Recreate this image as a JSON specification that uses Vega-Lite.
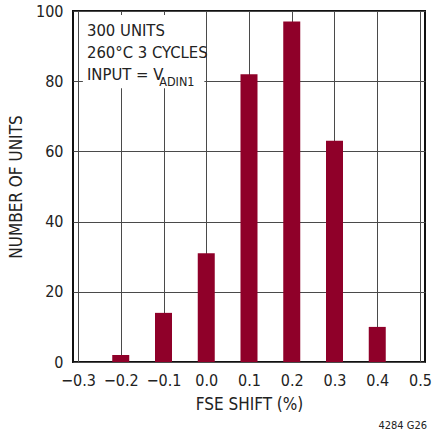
{
  "$schema": "https://vega.github.io/schema/vega-lite/v6.json",
  "width": 352,
  "height": 351,
  "autosize": "none",
  "padding": {"left": 73, "top": 11, "right": 12, "bottom": 71},
  "background": "white",
  "title": {"text": "4284 G26", "orient": "bottom", "anchor": "end", "frame": "group", "dx": 2, "fontSize": 11, "fontWeight": "normal", "font": "DejaVu Sans Condensed, DejaVu Sans", "color": "#222", "offset": 8},
  "datasets": {
    "bars": [
      {"x": -0.2, "y": 2},
      {"x": -0.1, "y": 14},
      {"x": 0.0, "y": 31},
      {"x": 0.1, "y": 82},
      {"x": 0.2, "y": 97},
      {"x": 0.3, "y": 63},
      {"x": 0.4, "y": 10}
    ],
    "box": [{"x": -0.2886, "x2": -0.0045, "y": 78, "y2": 98.86}],
    "notes": [
      {"x": -0.279, "y": 94.3, "label": "300 UNITS", "kind": "main"},
      {"x": -0.279, "y": 88.0, "label": "260°C 3 CYCLES", "kind": "main"},
      {"x": -0.279, "y": 81.8, "label": "INPUT = V", "kind": "main"},
      {"x": -0.110, "y": 79.9, "label": "ADIN1", "kind": "sub"}
    ]
  },
  "encoding": {
    "x": {
      "field": "x", "type": "quantitative",
      "scale": {"domain": [-0.3, 0.5], "nice": false, "zero": false},
      "axis": {"values": [-0.3, -0.2, -0.1, 0, 0.1, 0.2, 0.3, 0.4, 0.5], "format": ".1f", "title": "FSE SHIFT (%)", "titlePadding": 8},
      "title": "FSE SHIFT (%)"
    },
    "y": {
      "field": "y", "type": "quantitative",
      "scale": {"domain": [0, 100], "nice": false},
      "axis": {"values": [0, 20, 40, 60, 80, 100], "title": "NUMBER OF UNITS", "titlePadding": 10},
      "title": "NUMBER OF UNITS"
    }
  },
  "layer": [
    {
      "data": {"name": "box"},
      "mark": {"type": "rect", "fill": "white", "stroke": null},
      "encoding": {"x2": {"field": "x2"}, "y2": {"field": "y2"}}
    },
    {
      "data": {"name": "bars"},
      "mark": {"type": "bar", "width": 17, "color": "#8f0029"}
    },
    {
      "data": {"name": "notes"},
      "mark": {"type": "text", "align": "left", "baseline": "middle", "font": "DejaVu Sans Condensed, DejaVu Sans", "color": "#222"},
      "encoding": {
        "text": {"field": "label"},
        "size": {"field": "kind", "type": "nominal", "scale": {"domain": ["main", "sub"], "range": [16.5, 12.5]}, "legend": null}
      }
    }
  ],
  "config": {
    "view": {"stroke": "#111", "strokeWidth": 2},
    "axis": {
      "domain": false,
      "ticks": false,
      "grid": true,
      "gridColor": "#4a4a4a",
      "gridWidth": 1,
      "gridOpacity": 1,
      "labelFont": "DejaVu Sans Condensed, DejaVu Sans",
      "labelFontSize": 16,
      "labelColor": "#222",
      "labelPadding": 10,
      "titleFont": "DejaVu Sans Condensed, DejaVu Sans",
      "titleFontSize": 17,
      "titleFontWeight": "normal",
      "titleColor": "#222"
    }
  }
}
